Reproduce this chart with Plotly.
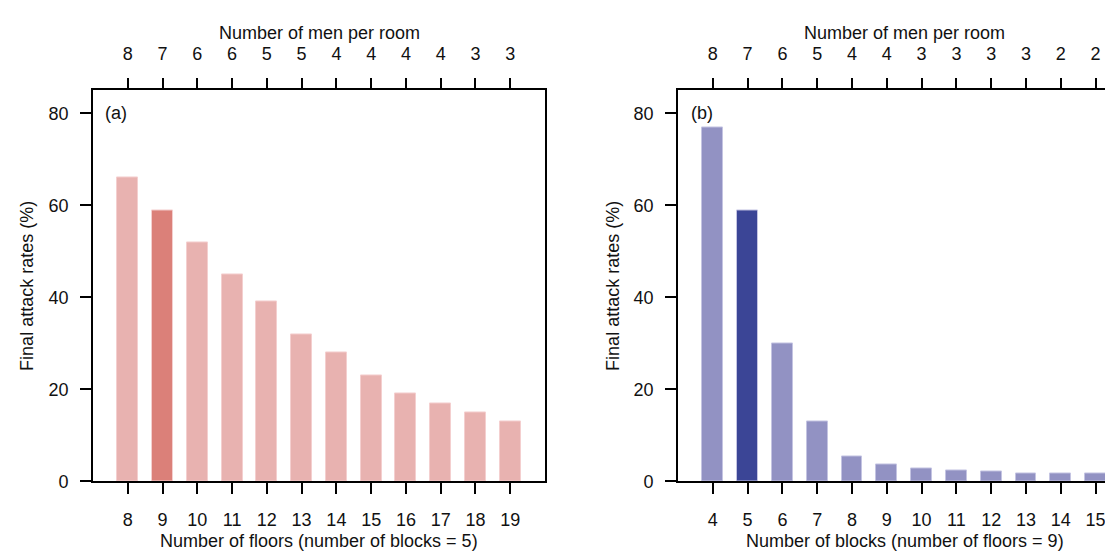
import plotly.graph_objects as go

# ---- data ----
floors = [8, 9, 10, 11, 12, 13, 14, 15, 16, 17, 18, 19]
attack_a = [66, 59, 52, 45, 39, 32, 28, 23, 19, 17, 15, 13]
men_a = ["8", "7", "6", "6", "5", "5", "4", "4", "4", "4", "3", "3"]
highlight_a = 9

blocks = [4, 5, 6, 7, 8, 9, 10, 11, 12, 13, 14, 15]
attack_b = [77, 59, 30, 13, 5.5, 3.6, 2.8, 2.4, 2.1, 1.8, 1.8, 1.6]
men_b = ["8", "7", "6", "5", "4", "4", "3", "3", "3", "3", "2", "2"]
highlight_b = 5

yticks = [0, 20, 40, 60, 80]

W, H = 1113, 553
FONT = "Liberation Sans, Arial, sans-serif"
FS = 18

light_a, dark_a = "#E8B2B0", "#DB8079"
light_b, dark_b = "#9292C3", "#3B4596"

def px_x(p):
    return p / W

def px_y(p):
    return (H - p) / H

fig = go.Figure()

fig.add_trace(go.Bar(
    x=floors, y=attack_a, width=0.6,
    marker=dict(color=[dark_a if f == highlight_a else light_a for f in floors],
                line=dict(color="#F4CFCF", width=1)),
    xaxis="x", yaxis="y", showlegend=False))
fig.add_trace(go.Bar(
    x=blocks, y=attack_b, width=0.6,
    marker=dict(color=[dark_b if b == highlight_b else light_b for b in blocks],
                line=dict(color="#C4C4E2", width=1)),
    xaxis="x3", yaxis="y2", showlegend=False))

ydom = [px_y(482), px_y(84)]
dom_a = [px_x(85), px_x(537)]
dom_b = [px_x(670), 1.0]
range_a = [7, 20]
range_b = [3, 3 + (W - 670) / 34.8]

tickfont = dict(family=FONT, size=FS, color="#111")
axis_common = dict(showgrid=False, zeroline=False, showline=True, linecolor="black",
                   linewidth=1.8, ticks="outside", ticklen=11, tickwidth=1.8,
                   tickcolor="black", tickfont=tickfont)

fig.update_layout(
    width=W, height=H, margin=dict(l=0, r=0, t=0, b=0),
    paper_bgcolor="white", plot_bgcolor="white", bargap=0,
    xaxis=dict(domain=dom_a, range=range_a, anchor="y", tickvals=floors,
               ticktext=[str(f) for f in floors], ticklabelstandoff=10, **axis_common),
    xaxis2=dict(domain=dom_a, range=range_a, anchor="y", overlaying="x", side="top",
                tickvals=floors, ticktext=men_a, ticklabelstandoff=10, **axis_common),
    yaxis=dict(domain=ydom, range=[0, 85], anchor="x", tickvals=yticks,
               ticklabelstandoff=8, mirror=True, **axis_common),
    xaxis3=dict(domain=dom_b, range=range_b, anchor="y2", tickvals=blocks,
                ticktext=[str(b) for b in blocks], ticklabelstandoff=10, **axis_common),
    xaxis4=dict(domain=dom_b, range=range_b, anchor="y2", overlaying="x3", side="top",
                tickvals=blocks, ticktext=men_b, ticklabelstandoff=10, **axis_common),
    yaxis2=dict(domain=ydom, range=[0, 85], anchor="x3", tickvals=yticks,
                ticklabelstandoff=8, **axis_common),
)
# invisible traces so the top axes are drawn
fig.add_trace(go.Scatter(x=floors, y=attack_a, xaxis="x2", yaxis="y", mode="markers",
                         marker=dict(opacity=0), showlegend=False, hoverinfo="skip"))
fig.add_trace(go.Scatter(x=blocks, y=attack_b, xaxis="x4", yaxis="y2", mode="markers",
                         marker=dict(opacity=0), showlegend=False, hoverinfo="skip"))

txt = dict(family=FONT, size=FS, color="#111")
ann = [
    dict(text="Number of men per room", x=px_x(311), y=px_y(25)),
    dict(text="Number of men per room", x=px_x(897), y=px_y(25)),
    dict(text="Number of floors (number of blocks = 5)", x=px_x(311), y=px_y(543)),
    dict(text="Number of blocks (number of floors = 9)", x=px_x(897), y=px_y(543)),
    dict(text="Final attack rates (%)", x=px_x(19), y=px_y(283), textangle=-90),
    dict(text="Final attack rates (%)", x=px_x(605), y=px_y(283), textangle=-90),
]
for a in ann:
    fig.add_annotation(xref="paper", yref="paper", xanchor="center", yanchor="middle",
                       showarrow=False, font=txt, **a)
fig.add_annotation(text="(a)", xref="paper", yref="paper", x=px_x(95), y=px_y(107),
                   xanchor="left", yanchor="middle", showarrow=False, font=txt)
fig.add_annotation(text="(b)", xref="paper", yref="paper", x=px_x(681), y=px_y(107),
                   xanchor="left", yanchor="middle", showarrow=False, font=txt)

fig.write_html("out.html")
